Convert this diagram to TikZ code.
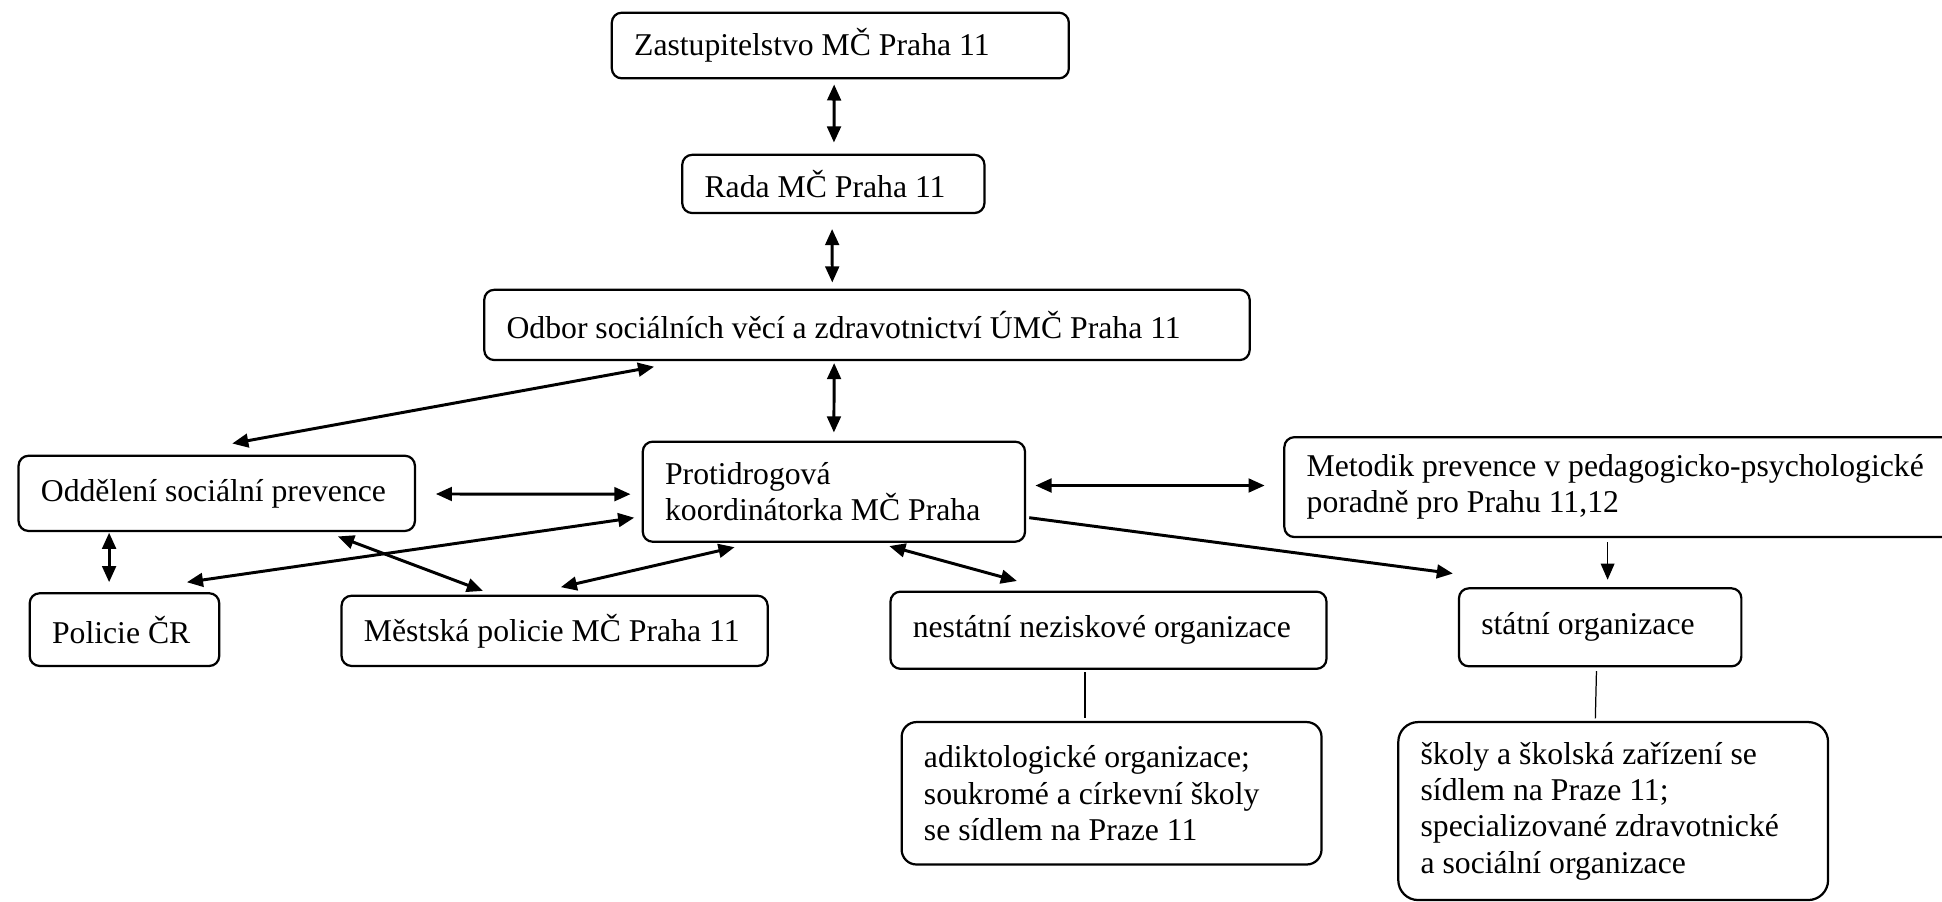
\documentclass[tikz,border=0pt]{standalone}
\usepackage{fontspec}
\setmainfont{Liberation Serif}
\usetikzlibrary{arrows.meta,calc}

\begin{document}
\begin{tikzpicture}[x=0.5pt,y=-0.5pt,
  >={Triangle[length=6.5pt,width=5.5pt]},
  box/.style={draw,line width=0.9pt,rounded corners=4pt,align=left,inner xsep=9pt,inner ysep=0pt,font=\fontsize{12.8}{14.7}\selectfont,
    execute at begin node={\spaceskip=0pt\xspaceskip=0pt}},
  link/.style={<->,line width=1.2pt},
  oneway/.style={->,line width=1.2pt},
  tie/.style={line width=0.5pt}]
\clip (0,0) rectangle (1568,728);
% boxes
\node[box,text width=166.5pt,minimum height=26.5pt] (zast) at (678.5,36.75) {Zastupitelstvo MČ Praha 11};
\node[box,text width=104pt,minimum height=23.5pt] (rada) at (672.85,148.5) {Rada MČ Praha 11};
\node[box,text width=291pt,minimum height=28.35pt] (odbor) at (700,262.35) {Odbor sociálních věcí a zdravotnictví ÚMČ Praha 11};
\node[box,text width=142pt,minimum height=30.35pt] (oddel) at (175,398.35) {Oddělení sociální prevence};
\node[box,text width=136.3pt,minimum height=40.4pt] (proti) at (673.3,397) {Protidrogová\\koordinátorka MČ Praha};
\node[box,text width=263.5pt,minimum height=40.3pt] (metodik) at (1318.5,393.3) {Metodik prevence v pedagogicko-psychologické\\poradně pro Prahu 11,12};
\node[box,text width=58.5pt,minimum height=29.35pt] (policie) at (100.5,508.35) {Policie ČR};
\node[box,text width=154pt,minimum height=28.35pt] (mestska) at (447.8,509.35) {Městská policie MČ Praha 11};
\node[box,text width=158pt,minimum height=31.15pt] (nestatni) at (895,508.85) {nestátní neziskové organizace};
\node[box,text width=96pt,minimum height=31.5pt] (statni) at (1292,506.5) {státní organizace};
\node[box,rounded corners=6pt,text width=151.5pt,minimum height=57.5pt] (adikto) at (897.5,640.5) {adiktologické organizace;\\soukromé a církevní školy\\se sídlem na Praze 11};
\node[box,rounded corners=8pt,text width=155.5pt,minimum height=71.85pt] (skoly) at (1302.5,654.85) {školy a školská zařízení se\\sídlem na Praze 11;\\specializované zdravotnické\\a sociální organizace};
% arrows
\draw[link] ($(zast.south)+(-5,4)$) -- ($(rada.north)+(0.5,-9)$);
\draw[link] ($(rada.south)+(-1,12)$) -- ($(odbor.north)+(-28,-5)$);
\draw[link] ($(odbor.south)+(-26.5,1.5)$) -- ($(proti.north)+(0,-6.5)$);
\draw[link] ($(odbor.south west)+(138,4.5)$) -- ($(oddel.north)+(12.5,-9)$);
\draw[link] ($(oddel.east)+(16,0.5)$) -- ($(proti.west)+(-9,2)$);
\draw[link] ($(oddel.south west)+(74,0.5)$) -- ($(policie.north west)+(65,-8)$);
\draw[link] ($(policie.north east)+(-27,-8)$) -- ($(proti.west)+(-6,21)$);
\draw[link] ($(oddel.south east)+(-63,3.5)$) -- ($(mestska.north west)+(115,-3)$);
\draw[link] ($(mestska.north)+(5,-6)$) -- ($(proti.south west)+(75,3.5)$);
\draw[link] ($(proti.south)+(44.7,2.6)$) -- ($(nestatni.north west)+(103,-7.7)$);
\draw[link] ($(proti.east)+(7.5,-5)$) -- ($(metodik.west)+(-15,-1.3)$);
\draw[oneway] ($(proti.east)+(2.5,21)$) -- ($(statni.north west)+(-4,-11)$);
\draw[->,line width=0.6pt] ($(statni.north |- metodik.south)+(6,3.5)$) -- ($(statni.north)+(6,-6)$);
\draw[tie] ($(nestatni.south west)+(158,2)$) -- ($(adikto.north west)+(149,-2)$);
\draw[tie] ($(statni.south)+(-3,3)$) -- ($(skoly.north west)+(160,-2)$);
\end{tikzpicture}
\end{document}
